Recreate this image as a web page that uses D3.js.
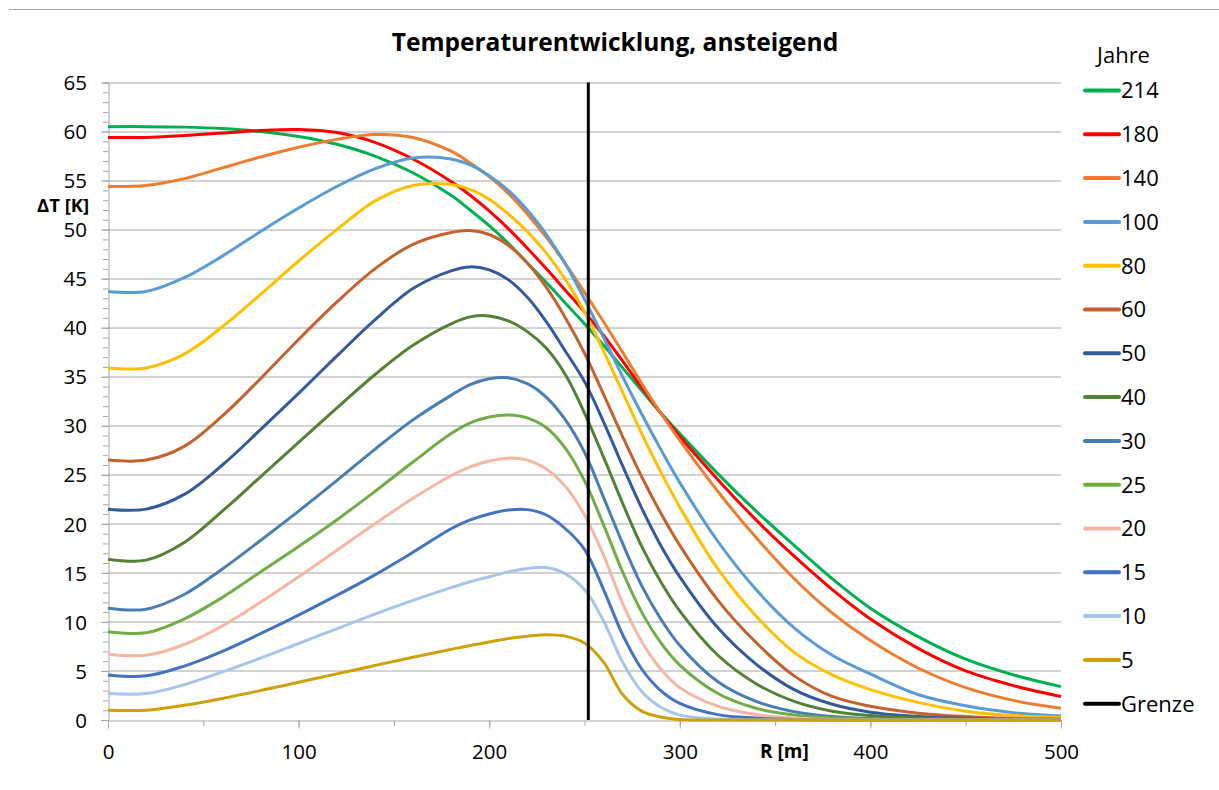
<!DOCTYPE html>
<meta charset="utf-8">
<script src="https://d3js.org/d3.v7.min.js"></script>
<style>
  body { margin: 0; background: #fff; }
  text { font-family: "Open Sans", "Liberation Sans", sans-serif; fill: #000; }
</style>
<div id="my_dataviz"></div>
<script>
// radius in m
var radius = [0, 20, 40, 60, 80, 100, 120, 140, 160, 180, 190, 200, 210, 220, 230, 240, 250,
              260, 270, 280, 290, 300, 320, 340, 360, 380, 400, 425, 450, 475, 500];

// temperature rise [K] per year
var t214 = [60.5, 60.5, 60.45, 60.3, 60.0, 59.5, 58.7, 57.5, 55.8, 53.5, 52.0, 50.4, 48.6, 46.6, 44.6, 42.5, 40.4,
            38.2, 35.9, 33.6, 31.3, 29.2, 25.1, 21.3, 17.8, 14.4, 11.4, 8.5, 6.2, 4.6, 3.4];
var t180 = [59.4, 59.4, 59.6, 59.85, 60.1, 60.2, 59.9, 58.9, 57.2, 54.9, 53.5, 51.9, 50.1, 48.1, 46.0, 43.8, 41.6,
            39.2, 36.6, 33.9, 31.3, 28.9, 24.5, 20.4, 16.7, 13.3, 10.3, 7.3, 5.0, 3.5, 2.4];
var t140 = [54.4, 54.5, 55.2, 56.3, 57.4, 58.4, 59.2, 59.7, 59.4, 58.0, 56.8, 55.4, 53.7, 51.6, 49.2, 46.5, 43.6,
            40.6, 37.5, 34.3, 31.3, 28.5, 23.3, 18.6, 14.4, 10.9, 8.1, 5.3, 3.3, 2.0, 1.2];
var t100 = [43.7, 43.7, 45.1, 47.3, 49.8, 52.2, 54.4, 56.2, 57.3, 57.2, 56.6, 55.5, 54.0, 52.0, 49.5, 46.5, 42.9,
            39.0, 35.0, 31.2, 27.6, 24.2, 18.2, 13.3, 9.4, 6.6, 4.7, 2.6, 1.45, 0.75, 0.4];
var t80  = [35.9, 35.9, 37.3, 40.1, 43.4, 46.8, 50.0, 52.9, 54.5, 54.6, 54.1, 53.1, 51.6, 49.8, 47.6, 44.9, 41.6,
            37.6, 33.4, 29.2, 25.3, 21.7, 15.4, 10.6, 6.9, 4.6, 3.1, 1.8, 0.9, 0.45, 0.25];
var t60  = [26.5, 26.5, 27.9, 31.0, 34.8, 38.8, 42.6, 46.0, 48.5, 49.7, 49.9, 49.5, 48.4, 46.6, 44.1, 41.0, 37.4,
            33.2, 28.9, 24.8, 21.1, 17.8, 12.2, 7.9, 4.5, 2.4, 1.4, 0.7, 0.35, 0.15, 0.1];
var t50  = [21.5, 21.5, 23.0, 26.0, 29.6, 33.3, 37.1, 40.8, 44.0, 45.8, 46.2, 45.9, 44.9, 43.1, 40.6, 37.6, 34.5,
            30.4, 25.9, 21.6, 17.8, 14.6, 9.4, 5.7, 3.1, 1.6, 0.8, 0.35, 0.15, 0.05, 0];
var t40  = [16.4, 16.3, 18.1, 21.3, 24.8, 28.3, 31.8, 35.2, 38.2, 40.4, 41.1, 41.2, 40.7, 39.6, 37.9, 35.2, 31.3,
            26.8, 22.1, 17.7, 14.1, 11.1, 6.6, 3.7, 1.9, 0.9, 0.45, 0.2, 0.1, 0, 0];
var t30  = [11.4, 11.3, 12.8, 15.4, 18.3, 21.3, 24.4, 27.6, 30.6, 33.1, 34.2, 34.8, 34.9, 34.3, 32.9, 30.6, 27.3,
            22.7, 18.0, 13.7, 10.3, 7.6, 3.9, 1.9, 0.85, 0.35, 0.15, 0.05, 0, 0, 0];
var t25  = [9.0, 8.9, 10.3, 12.5, 15.1, 17.7, 20.4, 23.3, 26.3, 29.2, 30.3, 30.9, 31.1, 30.8, 29.8, 27.7, 24.4,
            19.9, 15.1, 11.0, 7.9, 5.6, 2.7, 1.2, 0.5, 0.2, 0.07, 0, 0, 0, 0];
var t20  = [6.7, 6.6, 7.7, 9.6, 12.0, 14.6, 17.3, 20.0, 22.6, 24.9, 25.8, 26.4, 26.7, 26.5, 25.6, 23.8, 20.9,
            16.8, 11.9, 8.0, 5.2, 3.3, 1.4, 0.55, 0.2, 0.05, 0, 0, 0, 0, 0];
var t15  = [4.6, 4.5, 5.5, 7.0, 8.8, 10.7, 12.7, 14.8, 17.1, 19.5, 20.4, 21.0, 21.4, 21.45, 20.9, 19.5, 17.4,
            13.3, 8.7, 5.2, 3.0, 1.7, 0.55, 0.2, 0.05, 0, 0, 0, 0, 0, 0];
var t10  = [2.7, 2.7, 3.6, 4.9, 6.3, 7.8, 9.3, 10.8, 12.2, 13.5, 14.1, 14.6, 15.1, 15.45, 15.55, 14.9, 13.3,
            10.1, 5.9, 2.9, 1.3, 0.5, 0.1, 0, 0, 0, 0, 0, 0, 0, 0];
var t5   = [1.0, 1.0, 1.5, 2.2, 3.0, 3.85, 4.7, 5.55, 6.4, 7.2, 7.6, 7.95, 8.3, 8.55, 8.7, 8.55, 7.85,
            5.9, 2.6, 0.9, 0.3, 0.05, 0, 0, 0, 0, 0, 0, 0, 0, 0];

var years = ["214", "180", "140", "100", "80", "60", "50", "40", "30", "25", "20", "15", "10", "5"];
var values = [t214, t180, t140, t100, t80, t60, t50, t40, t30, t25, t20, t15, t10, t5];
var colors = ["#00b050", "#ff0000", "#ed7d31", "#5b9bd5", "#ffc000", "#c4622d", "#345a9c",
              "#548235", "#4a7eb3", "#70ad47", "#f5b7a2", "#4472c4", "#a7c4ea", "#d0a00a"];

// boundary (Grenze) at R = 252 m
var grenzeR = 252;

var xTicks = [0, 100, 200, 300, 400, 500];
var yTicks = [0, 5, 10, 15, 20, 25, 30, 35, 40, 45, 50, 55, 60, 65];

var W = 1219, H = 790;
var margin = {top: 82.5, right: 158, bottom: 70, left: 108};
var width = W - margin.left - margin.right,
    height = H - margin.top - margin.bottom;

var svgRoot = d3.select("#my_dataviz").append("svg")
    .attr("width", W).attr("height", H);

// thin frame line on top
svgRoot.append("line")
    .attr("x1", 9).attr("x2", W).attr("y1", 9.5).attr("y2", 9.5)
    .attr("stroke", "#a6a6a6").attr("stroke-width", 1);

svgRoot.append("text")
    .attr("x", 615).attr("y", 51)
    .attr("text-anchor", "middle")
    .style("font-size", "24.5px").style("font-weight", "bold")
    .text("Temperaturentwicklung, ansteigend");

var svg = svgRoot.append("g")
    .attr("transform", "translate(" + margin.left + "," + margin.top + ")");

var x = d3.scaleLinear().domain([0, 500]).range([0, width]);
var y = d3.scaleLinear().domain([0, 65]).range([height, 0]);

// horizontal grid
svg.append("g")
  .selectAll("line")
  .data(yTicks.slice(1))
  .enter().append("line")
    .attr("x1", 0).attr("x2", width)
    .attr("y1", d => Math.round(y(d)) + 0.5).attr("y2", d => Math.round(y(d)) + 0.5)
    .attr("stroke", "#a6a6a6");

// y axis with minor ticks
svg.append("g")
    .attr("transform", "translate(0.5,0)")
    .call(d3.axisLeft(y).tickValues(d3.range(0, 66, 1)).tickSize(5.5).tickFormat(""))
    .call(g => g.selectAll("line,path").attr("stroke", "#a6a6a6"));
var yAxis = svg.append("g")
    .attr("transform", "translate(0.5,0)")
    .call(d3.axisLeft(y).tickValues(yTicks).tickSize(7.5).tickPadding(14))
    .call(g => g.select(".domain").remove());
yAxis.selectAll("line").attr("stroke", "#a6a6a6");
yAxis.selectAll("text").style("font-size", "20.5px").style("font-family", "Open Sans").attr("dy", "0.35em");

// x axis with minor ticks
svg.append("g")
    .attr("transform", "translate(0," + (height + 0.5) + ")")
    .call(d3.axisBottom(x).tickValues(d3.range(0, 501, 50)).tickSize(5.5).tickFormat(""))
    .call(g => g.selectAll("line,path").attr("stroke", "#a6a6a6"));
var xAxis = svg.append("g")
    .attr("transform", "translate(0," + (height + 0.5) + ")")
    .call(d3.axisBottom(x).tickValues(xTicks).tickSize(8).tickPadding(16))
    .call(g => g.select(".domain").remove());
xAxis.selectAll("line").attr("stroke", "#a6a6a6");
xAxis.selectAll("text").style("font-size", "20.5px").style("font-family", "Open Sans");

// axis titles
svgRoot.append("text")
    .attr("x", 37).attr("y", 212)
    .style("font-size", "18.5px").style("font-weight", "bold")
    .text("\u0394T [K]");
svgRoot.append("text")
    .attr("x", 760).attr("y", 758)
    .style("font-size", "19px").style("font-weight", "bold")
    .text("R [m]");

// curves
var line = d3.line()
    .x((d, i) => x(radius[i]))
    .y(d => y(d))
    .curve(d3.curveCatmullRom.alpha(0.5));

svg.selectAll(".curve")
  .data(values)
  .enter().append("path")
    .attr("class", "curve")
    .attr("fill", "none")
    .attr("stroke", (d, i) => colors[i])
    .attr("stroke-width", 3)
    .attr("d", line);

// boundary line
svg.append("line")
    .attr("x1", x(grenzeR)).attr("x2", x(grenzeR))
    .attr("y1", y(0)).attr("y2", y(65))
    .attr("stroke", "#000").attr("stroke-width", 3);

// legend
var legend = svgRoot.append("g").attr("transform", "translate(1085,0)");
legend.append("text")
    .attr("x", 12).attr("y", 63)
    .style("font-size", "22px")
    .text("Jahre");

var legendItems = years.concat(["Grenze"]);
var legendColors = colors.concat(["#000"]);
var rowY = d => 90.5 + d * 43.8;

legend.selectAll("legendLines")
  .data(legendItems)
  .enter().append("line")
    .attr("x1", 0).attr("x2", 34)
    .attr("y1", (d, i) => rowY(i)).attr("y2", (d, i) => rowY(i))
    .attr("stroke", (d, i) => legendColors[i])
    .attr("stroke-width", 4)
    .attr("stroke-linecap", "round");

legend.selectAll("legendLabels")
  .data(legendItems)
  .enter().append("text")
    .attr("x", 36)
    .attr("y", (d, i) => rowY(i))
    .attr("dy", "0.36em")
    .style("font-size", "22px")
    .text(d => d);
</script>
